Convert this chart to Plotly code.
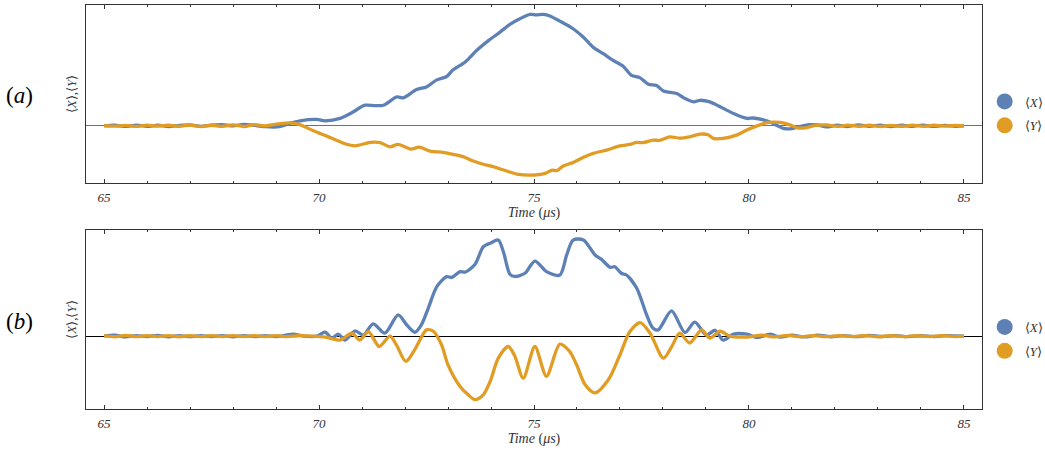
import plotly.graph_objects as go

# ---------------- data ----------------
# Panel (a): <X>
ta_x = [65.0, 65.25, 65.5, 65.75, 66.0, 66.25, 66.5, 66.75, 67.0, 67.25, 67.5, 67.75, 68.0, 68.25,
        68.5, 68.75, 68.95, 69.1, 69.3, 69.56, 69.95, 70.14, 70.49, 70.76, 71.07, 71.3, 71.5, 71.81,
        71.96, 72.27, 72.5, 72.74, 72.97, 73.12, 73.4, 73.67, 73.94, 74.21, 74.44, 74.67, 74.91, 75.05,
        75.22, 75.37, 75.6, 75.91, 76.15, 76.38, 76.61, 76.84, 77.08, 77.27, 77.46, 77.66, 77.85, 78.01,
        78.32, 78.48, 78.71, 78.86, 79.09, 79.33, 79.64, 79.95, 80.1, 80.41, 80.64, 80.8, 81.0, 81.2,
        81.4, 81.6, 81.8, 82.05, 82.3, 82.55, 82.8, 83.05, 83.3, 83.55, 83.8, 84.05, 84.3, 84.55, 84.8, 85.0]
xa = [0.0, 0.005, -0.005, 0.006, -0.004, 0.005, -0.006, 0.004, 0.008, -0.004, 0.006, 0.01, 0.0, 0.012,
      0.004, -0.008, -0.012, -0.005, 0.02, 0.045, 0.057, 0.045, 0.066, 0.116, 0.184, 0.18, 0.184, 0.258,
      0.25, 0.324, 0.347, 0.41, 0.44, 0.50, 0.57, 0.674, 0.76, 0.836, 0.905, 0.955, 0.994, 0.99,
      0.994, 0.98, 0.934, 0.866, 0.79, 0.70, 0.644, 0.584, 0.53, 0.45, 0.43, 0.371, 0.36, 0.311,
      0.288, 0.25, 0.214, 0.228, 0.214, 0.17, 0.11, 0.066, 0.07, 0.045, 0.006, -0.023, -0.025, -0.005,
      0.01, 0.008, -0.01, 0.006, -0.006, 0.008, -0.004, 0.006, -0.007, 0.005, -0.004, 0.006, -0.005, 0.004, -0.004, 0.0]

# Panel (a): <Y>
ta_y = [65.0, 65.25, 65.5, 65.75, 66.0, 66.25, 66.5, 66.75, 67.0, 67.25, 67.5, 67.75, 68.0, 68.25,
        68.5, 68.75, 68.95, 69.1, 69.33, 69.52, 69.87, 70.18, 70.49, 70.6, 70.84, 71.19, 71.42, 71.65,
        71.84, 72.14, 72.33, 72.58, 72.89, 73.12, 73.35, 73.59, 73.82, 74.05, 74.36, 74.6, 74.91, 75.26,
        75.42, 75.53, 75.68, 75.91, 76.15, 76.38, 76.69, 77.0, 77.23, 77.39, 77.54, 77.77, 77.92, 78.16,
        78.39, 78.62, 78.86, 79.05, 79.17, 79.4, 79.71, 79.95, 80.19, 80.45, 80.72, 80.95, 81.15, 81.35,
        81.55, 81.8, 82.05, 82.3, 82.55, 82.8, 83.05, 83.3, 83.55, 83.8, 84.05, 84.3, 84.55, 84.8, 85.0]
ya = [0.005, -0.003, 0.004, -0.005, 0.006, -0.003, 0.005, -0.004, 0.006, -0.006, 0.005, -0.004, 0.008, -0.006,
      0.01, 0.0, 0.01, 0.02, 0.027, 0.015, -0.044, -0.092, -0.142, -0.16, -0.178, -0.148, -0.15, -0.187,
      -0.166, -0.207, -0.19, -0.225, -0.236, -0.255, -0.275, -0.314, -0.343, -0.364, -0.403, -0.43, -0.44, -0.424,
      -0.395, -0.40, -0.359, -0.327, -0.281, -0.246, -0.216, -0.178, -0.166, -0.148, -0.15, -0.127, -0.13, -0.098,
      -0.11, -0.098, -0.074, -0.08, -0.112, -0.112, -0.083, -0.038, 0.0, 0.03, 0.03, 0.008, -0.02, -0.015,
      0.005, 0.008, -0.005, 0.006, -0.004, 0.005, -0.006, 0.004, -0.005, 0.006, -0.004, 0.005, -0.003, 0.004, 0.0]

# Panel (b): <X>
tb_x = [65.0, 65.25, 65.5, 65.75, 66.0, 66.25, 66.5, 66.75, 67.0, 67.25, 67.5, 67.75, 68.0, 68.25,
        68.5, 68.75, 69.0, 69.2, 69.4, 69.65, 69.95, 70.14, 70.3, 70.45, 70.6, 70.84, 71.03, 71.26,
        71.53, 71.84, 72.04, 72.23, 72.38, 72.54, 72.74, 72.97, 73.09, 73.28, 73.4, 73.63, 73.82, 73.98,
        74.17, 74.29, 74.44, 74.55, 74.79, 75.02, 75.29, 75.6, 75.76, 75.91, 76.15, 76.42, 76.57, 76.77,
        76.88, 77.03, 77.15, 77.39, 77.62, 77.77, 77.89, 78.2, 78.51, 78.74, 79.01, 79.21, 79.4, 79.64,
        79.95, 80.19, 80.5, 80.72, 81.0, 81.3, 81.6, 81.9, 82.2, 82.5, 82.8, 83.1, 83.4, 83.7, 84.0,
        84.3, 84.6, 85.0]
xb = [0.0, 0.01, -0.008, 0.006, -0.004, 0.008, -0.006, 0.005, -0.005, 0.006, -0.004, 0.005, -0.006, 0.004,
      -0.005, 0.006, -0.004, 0.008, 0.02, 0.0, 0.0, 0.04, -0.02, 0.02, -0.04, 0.054, 0.01, 0.125,
      0.03, 0.217, 0.115, 0.04, 0.115, 0.285, 0.506, 0.608, 0.60, 0.66, 0.655, 0.735, 0.914, 0.95,
      0.983, 0.86, 0.633, 0.61, 0.643, 0.768, 0.66, 0.625, 0.83, 0.983, 0.983, 0.83, 0.785, 0.704,
      0.71, 0.643, 0.625, 0.49, 0.217, 0.08, 0.064, 0.258, 0.037, 0.143, 0.01, 0.06, -0.04, 0.02,
      0.02, -0.015, 0.02, -0.01, 0.01, -0.008, 0.01, -0.006, 0.006, -0.005, 0.008, -0.004, 0.006, -0.005, 0.004,
      -0.004, 0.005, 0.0]

# Panel (b): <Y>
tb_y = [65.0, 65.25, 65.5, 65.75, 66.0, 66.25, 66.5, 66.75, 67.0, 67.25, 67.5, 67.75, 68.0, 68.25,
        68.5, 68.75, 69.0, 69.25, 69.5, 69.87, 70.15, 70.49, 70.76, 70.95, 71.15, 71.4, 71.65, 71.8,
        72.02, 72.23, 72.5, 72.66, 72.85, 73.0, 73.28, 73.47, 73.63, 73.82, 73.98, 74.17, 74.4, 74.55,
        74.75, 75.02, 75.29, 75.6, 75.83, 75.99, 76.19, 76.42, 76.73, 77.0, 77.23, 77.47, 77.7, 78.01,
        78.2, 78.39, 78.62, 78.9, 79.09, 79.33, 79.55, 79.95, 80.3, 80.6, 80.9, 81.2, 81.5, 81.8,
        82.1, 82.4, 82.7, 83.0, 83.3, 83.6, 83.9, 84.2, 84.5, 84.8, 85.0]
yb = [0.005, -0.006, 0.008, -0.005, 0.006, -0.004, 0.005, -0.006, 0.004, -0.005, 0.006, -0.004, 0.005, -0.005,
      0.004, -0.004, 0.006, -0.005, 0.004, 0.0, -0.01, -0.04, 0.03, -0.04, 0.047, -0.106, 0.0, -0.09,
      -0.259, -0.136, 0.064, 0.05, -0.09, -0.293, -0.514, -0.60, -0.65, -0.60, -0.463, -0.225, -0.106, -0.20,
      -0.43, -0.106, -0.41, -0.082, -0.157, -0.293, -0.497, -0.58, -0.446, -0.19, 0.047, 0.139, 0.03, -0.225,
      -0.11, 0.03, -0.07, 0.064, -0.02, 0.05, 0.0, -0.01, 0.01, -0.008, 0.008, -0.006, 0.006, -0.005,
      0.006, -0.004, 0.005, -0.006, 0.004, -0.005, 0.006, -0.004, 0.005, -0.004, 0.0]

series_names = ["⟨<i>X</i>⟩", "⟨<i>Y</i>⟩"]
xticks = [65, 70, 75, 80, 85]

# ---------------- styling ----------------
BLUE = "#5E81B5"
ORANGE = "#E19C24"
SERIF = "Liberation Serif"
LW = 3.3

fig = go.Figure()

def add_line(t, v, color, xa_, ya_):
    fig.add_trace(go.Scatter(x=t, y=v, mode="lines", line=dict(color=color, width=LW, shape="spline", smoothing=0.8),
                             xaxis=xa_, yaxis=ya_, showlegend=False, hoverinfo="x+y"))

add_line(ta_x, xa, BLUE, "x", "y")
add_line(ta_y, ya, ORANGE, "x", "y")
add_line(tb_x, xb, BLUE, "x2", "y2")
add_line(tb_y, yb, ORANGE, "x2", "y2")

# legend entries (markers only)
for leg, ax, ay in (("legend", "x", "y"), ("legend2", "x2", "y2")):
    for name, col in zip(series_names, (BLUE, ORANGE)):
        fig.add_trace(go.Scatter(x=[None], y=[None], mode="markers", name=name,
                                 marker=dict(color=col, size=16, symbol="circle"),
                                 xaxis=ax, yaxis=ay, legend=leg, legendgroup=leg + name, showlegend=True))

xaxis_common = dict(
    range=[64.58, 85.42], tickvals=xticks, ticktext=[str(v) for v in xticks],
    ticks="inside", ticklen=4, tickwidth=1, tickcolor="#333",
    minor=dict(dtick=1, tick0=65, ticks="inside", ticklen=2, tickwidth=1, tickcolor="#333"),
    showline=True, linecolor="#333", linewidth=1, mirror="ticks",
    showgrid=False, zeroline=False, automargin=False,
    tickfont=dict(family=SERIF, size=13, color="#333", style="italic"),
    ticklabelstandoff=2,
    title=dict(text="<i>Time</i> (<i>μs</i>)", font=dict(family=SERIF, size=14, color="#333"), standoff=3),
)
yaxis_common = dict(
    showticklabels=False, ticks="", showline=True, linecolor="#333", linewidth=1, mirror=True,
    showgrid=False, zeroline=True, zerolinewidth=1, automargin=False,
    title=dict(text="⟨<i>X</i>⟩,⟨<i>Y</i>⟩", font=dict(family=SERIF, size=13, color="#333"), standoff=5),
)

legend_common = dict(font=dict(family=SERIF, size=13, color="#333"), bgcolor="rgba(0,0,0,0)",
                     xanchor="left", yanchor="middle", tracegroupgap=4, itemwidth=30,
                     traceorder="grouped")

fig.update_layout(
    width=1045, height=452,
    margin=dict(l=86, r=63, t=5, b=43, autoexpand=False),
    paper_bgcolor="white", plot_bgcolor="white",
    xaxis=dict(domain=[0, 1], anchor="y", **xaxis_common),
    yaxis=dict(domain=[0.5594, 1.0], anchor="x", range=[-0.51, 1.078], zerolinecolor="#707070", **yaxis_common),
    xaxis2=dict(domain=[0, 1], anchor="y2", **xaxis_common),
    yaxis2=dict(domain=[0.0, 0.443], anchor="x2", range=[-0.745, 1.085], zerolinecolor="#000000", **yaxis_common),
    legend=dict(x=1.003, y=0.7314, **legend_common),
    legend2=dict(x=1.003, y=0.1733, **legend_common),
    annotations=[
        dict(text="(<i>a</i>)", xref="paper", yref="paper", x=-0.074, y=0.777, xanchor="center", yanchor="middle",
             showarrow=False, font=dict(family=SERIF, size=23, color="black")),
        dict(text="(<i>b</i>)", xref="paper", yref="paper", x=-0.074, y=0.217, xanchor="center", yanchor="middle",
             showarrow=False, font=dict(family=SERIF, size=23, color="black")),
    ],
)

fig.write_html("out.html", config={"displayModeBar": False},
               post_script="document.body.style.margin='0';document.body.style.overflow='hidden';")
